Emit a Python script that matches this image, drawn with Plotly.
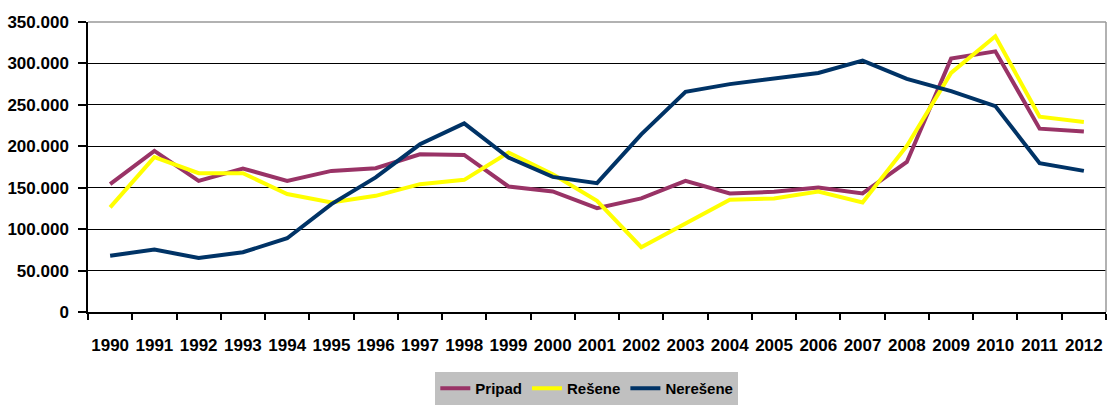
import plotly.graph_objects as go

years = [str(y) for y in range(1990, 2013)]
pripad = [154300, 194400, 158300, 173200, 158300, 170300, 173500, 190400, 189600, 151500,
          145500, 125400, 137100, 158300, 143100, 145000, 150300, 143100, 181100, 305800,
          314600, 221300, 217700]
resene = [126300, 187000, 167500, 167500, 142300, 132300, 140200, 154300, 159500, 192400,
          166300, 134200, 78200, 107400, 135400, 137100, 145500, 132300, 200400, 288600,
          332700, 235700, 229200]
neresene = [68000, 75300, 65300, 72100, 89000, 130200, 162400, 202400, 227700, 186400,
            163100, 155500, 214400, 265800, 275000, 281500, 288500, 303400, 281400, 266500,
            248500, 179600, 170300]
y_ticks = [0, 50000, 100000, 150000, 200000, 250000, 300000, 350000]

font = "Arial, 'Liberation Sans', sans-serif"

fig = go.Figure()
for name, vals, col in [("Pripad", pripad, "#993366"),
                        ("Rešene", resene, "#FFFF00"),
                        ("Nerešene", neresene, "#003366")]:
    fig.add_trace(go.Scatter(x=years, y=vals, name=name, mode="lines",
                             line=dict(color=col, width=4)))

fig.update_layout(
    width=1107, height=405,
    margin=dict(l=88, r=1, t=22, b=92),
    paper_bgcolor="white", plot_bgcolor="white",
    separators=",.",
    font=dict(family=font, color="black"),
    showlegend=True,
    legend=dict(orientation="h", x=0.49, xanchor="center", y=-0.205, yanchor="top",
                bgcolor="#C0C0C0", font=dict(size=15, family=font, weight="bold"),
                traceorder="normal", itemwidth=30, tracegroupgap=0),
    xaxis=dict(type="category", range=[-0.5, 22.5], tickson="boundaries",
               ticks="outside", ticklen=6, tickcolor="black", tickwidth=1.5,
               showline=True, linecolor="black", linewidth=1.5, showgrid=False,
               tickangle=0, automargin=False, ticklabelstandoff=17,
               tickfont=dict(size=17, family=font, weight="bold"), fixedrange=True),
    yaxis=dict(range=[0, 350000], tickvals=y_ticks, tickformat=",d",
               ticks="outside", ticklen=8, tickcolor="black", tickwidth=1.5,
               showline=True, linecolor="black", linewidth=1.5,
               showgrid=True, gridcolor="black", gridwidth=1, zeroline=False,
               automargin=False, ticklabelstandoff=6,
               tickfont=dict(size=17, family=font, weight="bold"), fixedrange=True),
)
# gray border top and right of plot area
fig.add_shape(type="line", xref="paper", yref="paper", x0=0, x1=1, y0=1, y1=1,
              line=dict(color="#999999", width=1.5))
fig.add_shape(type="line", xref="paper", yref="paper", x0=1, x1=1, y0=0, y1=1,
              line=dict(color="#999999", width=1.5))

fig.write_html("out.html", config={"displayModeBar": False},
               post_script="document.body.style.margin='0';")
